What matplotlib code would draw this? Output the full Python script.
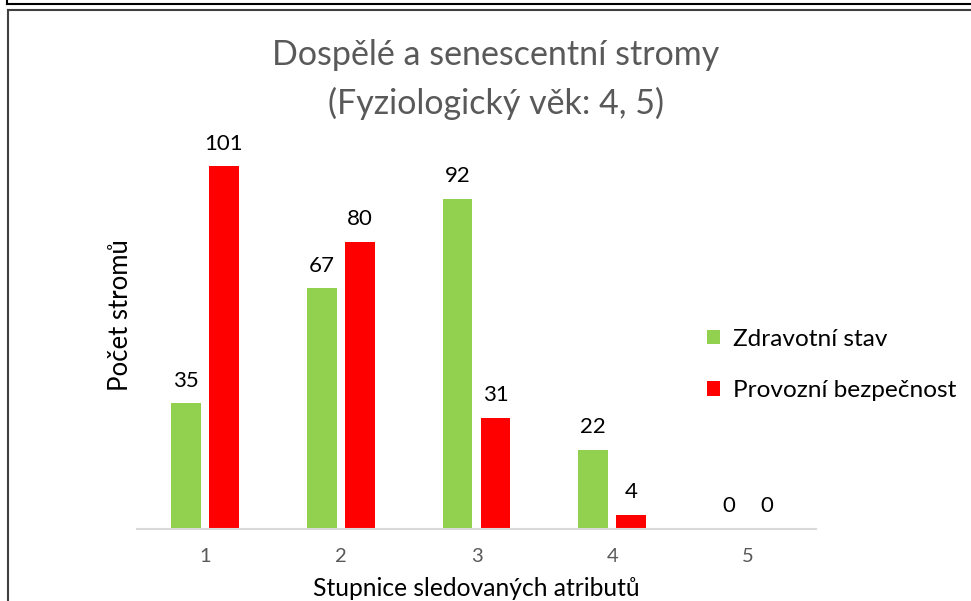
import matplotlib
matplotlib.use("Agg")
import matplotlib.pyplot as plt
from matplotlib.lines import Line2D
import numpy as np

plt.rcParams['font.family'] = ['Lato', 'DejaVu Sans']

categories = ["1", "2", "3", "4", "5"]
zdravotni = [35, 67, 92, 22, 0]
provozni = [101, 80, 31, 4, 0]
series_names = ["Zdravotní stav", "Provozní bezpečnost"]
title_lines = ["Dospělé a senescentní stromy", "(Fyziologický věk: 4, 5)"]
xlabel = "Stupnice sledovaných atributů"
ylabel = "Počet stromů"

W, H = 971, 601
fig = plt.figure(figsize=(W / 100, H / 100), dpi=100)
ax = fig.add_axes([137 / W, (H - 529) / H, (816 - 137) / W, (529 - 98) / H])

x = np.arange(len(categories))
bw = 0.22
off = 0.14
green = "#92d050"
red = "#ff0000"
b1 = ax.bar(x - off, zdravotni, bw, color=green, label=series_names[0])
b2 = ax.bar(x + off, provozni, bw, color=red, label=series_names[1])
for bars in (b1, b2):
    for r in bars:
        ax.annotate(f"{int(r.get_height())}", (r.get_x() + r.get_width() / 2, r.get_height()),
                    xytext=(0, 9), textcoords="offset points", ha="center", va="bottom",
                    fontsize=16, color="black")

ax.set_xlim(-0.5, len(categories) - 0.5)
ax.set_ylim(0, 120)
ax.set_xticks(x)
ax.set_xticklabels(categories, fontsize=14.5, color="#595959")
ax.tick_params(axis="x", length=0, pad=14)
ax.set_yticks([])
for s in ("top", "right", "left"):
    ax.spines[s].set_visible(False)
ax.spines["bottom"].set_color("#d9d9d9")
ax.spines["bottom"].set_linewidth(1.5)

fig.text(496 / W, 1 - 55 / H, title_lines[0], ha="center", va="center",
         fontsize=24.5, color="#595959")
fig.text(496 / W, 1 - 103 / H, title_lines[1], ha="center", va="center",
         fontsize=24.5, color="#595959")
fig.text(476 / W, 1 - 588 / H, xlabel, ha="center", va="center", fontsize=17.7, color="black")
fig.text(120 / W, 1 - 315 / H, ylabel, ha="center", va="center", rotation=90,
         fontsize=18.5, color="black")

leg = fig.legend(handles=[b1, b2], labels=series_names, loc="center left",
                 bbox_to_anchor=(685 / W, 1 - 365 / H), frameon=False, fontsize=17.6,
                 handlelength=0.55, handleheight=0.55, handletextpad=0.5, labelspacing=1.25)

# outer frame lines
fig.add_artist(Line2D([7 / W, 1], [1 - 4 / H, 1 - 4 / H], color="black", lw=1.5, transform=fig.transFigure))
fig.add_artist(Line2D([7 / W, 7 / W], [1, 1 - 4 / H], color="black", lw=1.5, transform=fig.transFigure))
fig.add_artist(Line2D([7.5 / W, 1], [1 - 9.5 / H, 1 - 9.5 / H], color="#404040", lw=1.5, transform=fig.transFigure))
fig.add_artist(Line2D([7.5 / W, 7.5 / W], [1 - 9.5 / H, 0], color="#404040", lw=1.5, transform=fig.transFigure))

fig.savefig("out.png", dpi=100)
